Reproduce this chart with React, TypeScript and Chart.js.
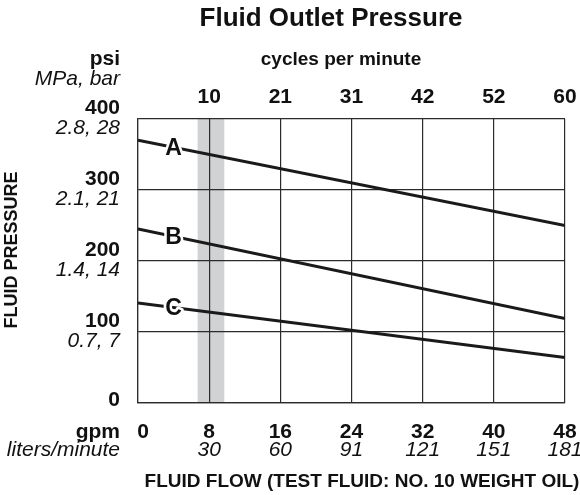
import React, { useEffect, useRef } from "react";
import { Chart, registerables } from "chart.js";

Chart.register(...registerables);

// ---- data ----
const flowTicksGpm = [0, 8, 16, 24, 32, 40, 48];
const flowTicksLpm = ["", "30", "60", "91", "121", "151", "181"];
const cycleTickPos = [8, 16, 24, 32, 40, 48];
const cycleTickLabels = ["10", "21", "31", "42", "52", "60"];
const psiTicks = [400, 300, 200, 100, 0];
const mpaBarLabels = ["2.8, 28", "2.1, 21", "1.4, 14", "0.7, 7", ""];
const bandRange = [6.7, 9.7];
const seriesNames = ["A", "B", "C"];
const seriesFlow = [0, 48];
const seriesA = [370, 250];
const seriesB = [245, 119];
const seriesC = [141, 64];
const letterAtGpm = 4.0;

const FONT = "'Liberation Sans', Arial, sans-serif";
const INK = "#111";

export default function App() {
  const ref = useRef<HTMLCanvasElement>(null);
  useEffect(() => {
    const canvas = ref.current;
    if (!canvas) return;
    const all = [seriesA, seriesB, seriesC];
    const bandPlugin = {
      id: "band",
      beforeDraw(chart: any) {
        const { ctx, chartArea, scales } = chart;
        const x1 = scales.x.getPixelForValue(bandRange[0]);
        const x2 = scales.x.getPixelForValue(bandRange[1]);
        ctx.save();
        ctx.fillStyle = "#d1d2d4";
        ctx.fillRect(x1, chartArea.top, x2 - x1, chartArea.bottom - chartArea.top);
        ctx.restore();
      },
    };
    const letterPlugin = {
      id: "letters",
      afterDatasetsDraw(chart: any) {
        const { ctx, scales } = chart;
        ctx.save();
        ctx.font = `bold 23px ${FONT}`;
        ctx.textAlign = "center";
        ctx.textBaseline = "middle";
        all.forEach((s, i) => {
          const t = (letterAtGpm - seriesFlow[0]) / (seriesFlow[1] - seriesFlow[0]);
          const v = s[0] + (s[1] - s[0]) * t;
          const x = scales.x.getPixelForValue(letterAtGpm);
          const y = scales.y.getPixelForValue(v) + 1;
          ctx.lineWidth = 5;
          ctx.strokeStyle = "#fff";
          ctx.lineJoin = "round";
          ctx.strokeText(seriesNames[i], x, y);
          ctx.fillStyle = INK;
          ctx.fillText(seriesNames[i], x, y);
        });
        ctx.restore();
      },
    };
    const textPlugin = {
      id: "texts",
      afterDraw(chart: any) {
        const { ctx, scales } = chart;
        const xs = scales.x;
        const ys = scales.y;
        ctx.save();
        ctx.fillStyle = INK;
        ctx.textBaseline = "middle";
        // title
        ctx.textAlign = "center";
        ctx.font = `bold 26px ${FONT}`;
        ctx.fillText("Fluid Outlet Pressure", 331, 19);
        ctx.font = `bold 19px ${FONT}`;
        ctx.fillText("cycles per minute", 341, 60);
        ctx.font = `bold 21px ${FONT}`;
        cycleTickPos.forEach((p, i) => {
          ctx.fillText(cycleTickLabels[i], xs.getPixelForValue(p), 97);
        });
        // left unit labels
        ctx.textAlign = "right";
        ctx.font = `bold 21px ${FONT}`;
        ctx.fillText("psi", 120, 59);
        ctx.font = `italic 21px ${FONT}`;
        ctx.fillText("MPa, bar", 120, 79);
        psiTicks.forEach((v, i) => {
          const y = ys.getPixelForValue(v);
          ctx.font = `bold 21px ${FONT}`;
          ctx.fillText(String(v), 120, v === 0 ? y - 3 : y - 11);
          if (mpaBarLabels[i]) {
            ctx.font = `italic 21px ${FONT}`;
            ctx.fillText(mpaBarLabels[i], 120, y + 9);
          }
        });
        // bottom
        ctx.font = `bold 21px ${FONT}`;
        ctx.fillText("gpm", 120, 432);
        ctx.font = `italic 21px ${FONT}`;
        ctx.fillText("liters/minute", 120, 450);
        ctx.textAlign = "center";
        flowTicksGpm.forEach((g, i) => {
          const x = xs.getPixelForValue(g) + (g === 0 ? 5 : 0);
          ctx.font = `bold 21px ${FONT}`;
          ctx.fillText(String(g), x, 432);
          if (flowTicksLpm[i]) {
            ctx.font = `italic 21px ${FONT}`;
            ctx.fillText(flowTicksLpm[i], x, 450);
          }
        });
        ctx.font = `bold 19px ${FONT}`;
        ctx.fillText("FLUID FLOW (TEST FLUID: NO. 10 WEIGHT OIL)", 362, 482);
        // vertical title
        ctx.translate(12, 250);
        ctx.rotate(-Math.PI / 2);
        ctx.font = `bold 18px ${FONT}`;
        ctx.fillText("FLUID PRESSURE", 0, 0);
        ctx.restore();
      },
    };
    const mk = (s: number[]) =>
      seriesFlow.map((x, i) => ({ x, y: s[i] }));
    const chart = new Chart(canvas, {
      type: "line",
      data: {
        datasets: all.map((s, i) => ({
          label: seriesNames[i],
          data: mk(s),
          borderColor: "#1a1a1a",
          borderWidth: 3,
          pointRadius: 0,
          fill: false,
        })),
      },
      options: {
        responsive: false,
        animation: false,
        events: [],
        layout: { padding: { left: 138, right: 15, top: 119, bottom: 92 } },
        plugins: { legend: { display: false }, tooltip: { enabled: false }, title: { display: false } },
        scales: {
          x: {
            type: "linear",
            min: 0,
            max: 48,
            afterBuildTicks: (sc: any) => {
              sc.ticks = flowTicksGpm.map((v) => ({ value: v }));
            },
            ticks: { display: false },
            grid: { color: "#2b2b2b", lineWidth: 1.2, drawTicks: false },
            border: { display: true, color: "#2b2b2b", width: 1.2 },
          },
          y: {
            type: "linear",
            min: 0,
            max: 400,
            afterBuildTicks: (sc: any) => {
              sc.ticks = psiTicks.map((v) => ({ value: v }));
            },
            ticks: { display: false },
            grid: { color: "#2b2b2b", lineWidth: 1.2, drawTicks: false },
            border: { display: true, color: "#2b2b2b", width: 1.2 },
          },
        },
      },
      plugins: [bandPlugin, letterPlugin, textPlugin],
    });
    return () => chart.destroy();
  }, []);
  return (
    <div style={{ position: "fixed", left: 0, top: 0, width: 580, height: 495, background: "#fff" }}>
      <canvas ref={ref} width={580} height={495} />
    </div>
  );
}
